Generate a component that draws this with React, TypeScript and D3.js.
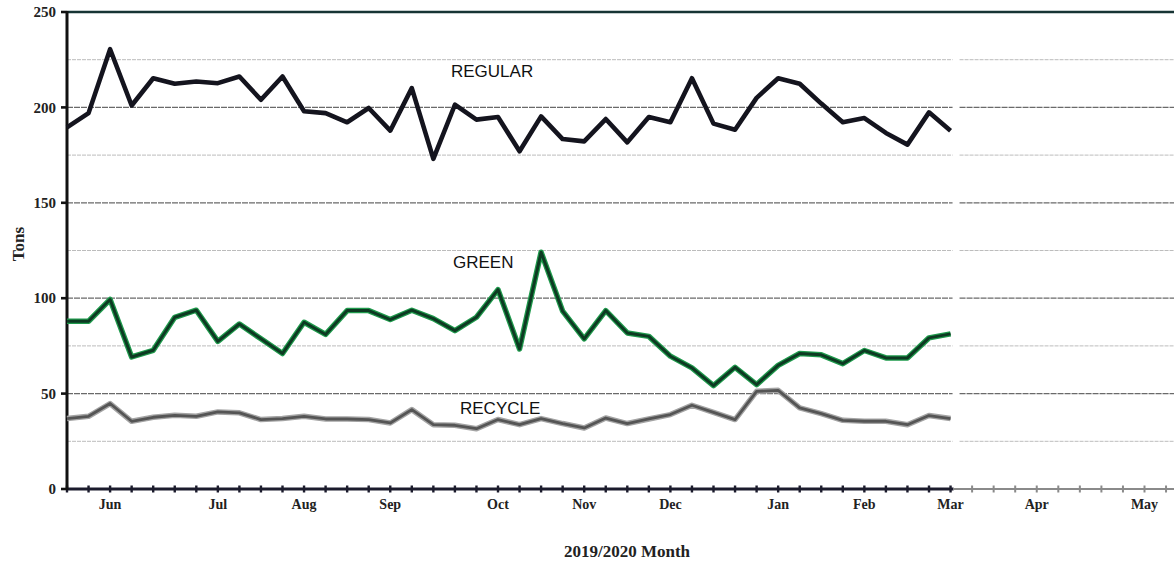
import React from "react";
import * as d3 from "d3";

// Weekly tonnage, late May 2019 through early March 2020
const regular = [
  189.5, 197, 230.5, 201, 215.3, 212.4, 213.6, 212.7, 216.2, 204, 216.2, 198,
  197, 192.2, 199.7, 187.8, 210.1, 173, 201.4, 193.6, 195, 177, 195.3, 183.4,
  182.2, 193.9, 181.7, 195, 192.2, 215.3, 191.5, 188.3, 205, 215.3, 212.4, 202,
  192.2, 194.4, 186.6, 180.5, 197.4, 187.8,
];
const green = [
  87.9, 87.9, 99.3, 69.2, 72.7, 90, 93.7, 77.4, 86.5, 78.7, 71, 87.4, 81, 93.5,
  93.5, 88.8, 93.7, 89.3, 83, 90, 104.5, 73.4, 124.1, 93.2, 78.7, 93.5, 81.8,
  80, 69.6, 63.5, 54.2, 63.8, 54.7, 64.8, 71, 70.3, 65.7, 72.6, 68.7, 68.7,
  79.2, 81.3,
];
const recycle = [
  36.9, 38.1, 44.8, 35.5, 37.6, 38.6, 38.1, 40.4, 39.9, 36.4, 36.9, 38.1, 36.7,
  36.7, 36.4, 34.6, 41.6, 33.7, 33.4, 31.6, 36.4, 33.7, 36.9, 34.3, 32, 37.2,
  34.3, 36.7, 39, 43.9, 40.2, 36.4, 51.2, 51.7, 42.5, 39.5, 36, 35.5, 35.5,
  33.7, 38.5, 36.9,
];

// Month labels and the week index each one sits under
const months = ["Jun", "Jul", "Aug", "Sep", "Oct", "Nov", "Dec", "Jan", "Feb", "Mar", "Apr", "May"];
const monthWeeks = [2, 7, 11, 15, 20, 24, 28, 33, 37, 41, 45, 50];

const yTicks = [0, 50, 100, 150, 200, 250];
const minorGrid = [25, 75, 125, 175, 225];
const majorGrid = [50, 100, 150, 200];

const W = 1174;
const H = 565;
const left = 67;
const top = 12;
const bottom = 489;
const weekStep = 21.55;
const weeksShown = 52;
const lastWeek = regular.length - 1;

const x = d3.scaleLinear().domain([0, weeksShown]).range([left, left + weekStep * weeksShown]);
const y = d3.scaleLinear().domain([0, 250]).range([bottom, top]);

const line = d3
  .line<number>()
  .x((_, i) => x(i))
  .y((v) => y(v));

const serif = "'Liberation Serif', 'Times New Roman', serif";
const sans = "'Liberation Sans', Arial, sans-serif";

// Grid lines break briefly just past the last data week
const gapStart = x(lastWeek) + 2;
const gapEnd = x(lastWeek) + 9;

export default function App() {
  const ticks = d3.range(0, weeksShown + 1);
  return (
    <svg
      width={W}
      height={H}
      style={{ position: "absolute", left: 0, top: 0, background: "#fff" }}
    >
      {/* minor grid */}
      {minorGrid.map((v) => (
        <g key={`mi${v}`} stroke="#bcbcbc" strokeWidth={1} strokeDasharray="4 1">
          <line x1={left} x2={gapStart} y1={y(v)} y2={y(v)} />
          <line x1={gapEnd} x2={W} y1={y(v)} y2={y(v)} />
        </g>
      ))}
      {/* major grid */}
      {majorGrid.map((v) => (
        <g key={`ma${v}`} stroke="#6a6a6a" strokeWidth={1.2} strokeDasharray="6 1">
          <line x1={left} x2={gapStart} y1={y(v)} y2={y(v)} />
          <line x1={gapEnd} x2={W} y1={y(v)} y2={y(v)} />
        </g>
      ))}
      {/* top frame line at 250 */}
      <line x1={left} x2={W} y1={y(250)} y2={y(250)} stroke="#173434" strokeWidth={2.6} />

      {/* x axis */}
      <line x1={left} x2={x(lastWeek) + 3} y1={bottom} y2={bottom} stroke="#1b1b2c" strokeWidth={3} />
      <line x1={x(lastWeek) + 3} x2={W} y1={bottom} y2={bottom} stroke="#8a8a8a" strokeWidth={2} />
      {ticks.map((t) => (
        <line
          key={`xt${t}`}
          x1={x(t)}
          x2={x(t)}
          y1={bottom - 3.5}
          y2={bottom + 3.5}
          stroke={t <= lastWeek ? "#1b1b2c" : "#8a8a8a"}
          strokeWidth={t <= lastWeek ? 2.4 : 2}
        />
      ))}
      {months.map((m, i) => (
        <text
          key={m}
          x={x(monthWeeks[i])}
          y={509}
          textAnchor="middle"
          fontFamily={serif}
          fontWeight="bold"
          fontSize={14}
          fill="#222"
        >
          {m}
        </text>
      ))}

      {/* y axis */}
      <line x1={left} x2={left} y1={top - 1} y2={bottom + 1} stroke="#111" strokeWidth={3} />
      {yTicks.map((v) => (
        <g key={`yt${v}`}>
          <line x1={left - 6} x2={left} y1={y(v)} y2={y(v)} stroke="#111" strokeWidth={2.6} />
          <text
            x={56}
            y={y(v)}
            dy="0.35em"
            textAnchor="end"
            fontFamily={serif}
            fontWeight="bold"
            fontSize={15}
            fill="#222"
          >
            {v}
          </text>
        </g>
      ))}

      {/* series */}
      <path d={line(recycle) ?? ""} fill="none" stroke="#a4a4a4" strokeWidth={5.5} strokeLinejoin="round" />
      <path d={line(recycle) ?? ""} fill="none" stroke="#555" strokeWidth={2.8} strokeLinejoin="round" />
      <path d={line(green) ?? ""} fill="none" stroke="#1f9a4c" strokeWidth={5.5} strokeLinejoin="round" />
      <path d={line(green) ?? ""} fill="none" stroke="#0d3a22" strokeWidth={3} strokeLinejoin="round" />
      <path d={line(regular) ?? ""} fill="none" stroke="#14141e" strokeWidth={4.6} strokeLinejoin="round" />

      {/* series labels */}
      <text x={451} y={77} fontFamily={sans} fontSize={17} fill="#111">REGULAR</text>
      <text x={453} y={268} fontFamily={sans} fontSize={17} fill="#111">GREEN</text>
      <text x={460} y={414} fontFamily={sans} fontSize={17} fill="#111">RECYCLE</text>

      {/* axis titles */}
      <text
        transform={`translate(24, 244) rotate(-90)`}
        textAnchor="middle"
        fontFamily={serif}
        fontWeight="bold"
        fontSize={17}
        fill="#222"
      >
        Tons
      </text>
      <text
        x={627}
        y={557}
        textAnchor="middle"
        fontFamily={serif}
        fontWeight="bold"
        fontSize={17}
        fill="#222"
      >
        2019/2020 Month
      </text>
    </svg>
  );
}
